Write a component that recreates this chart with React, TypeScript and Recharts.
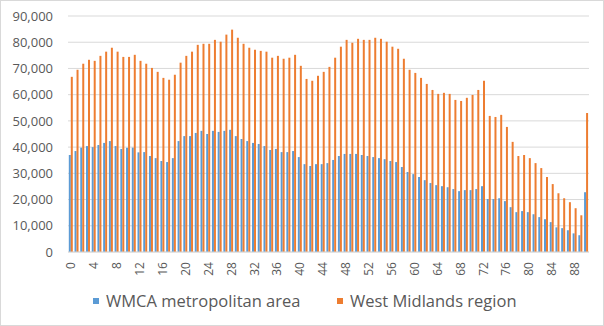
import { BarChart, Bar, XAxis, YAxis, CartesianGrid, Legend } from 'recharts'

const ages = [
  '0', '1', '2', '3', '4', '5', '6', '7', '8', '9',
  '10', '11', '12', '13', '14', '15', '16', '17', '18', '19',
  '20', '21', '22', '23', '24', '25', '26', '27', '28', '29',
  '30', '31', '32', '33', '34', '35', '36', '37', '38', '39',
  '40', '41', '42', '43', '44', '45', '46', '47', '48', '49',
  '50', '51', '52', '53', '54', '55', '56', '57', '58', '59',
  '60', '61', '62', '63', '64', '65', '66', '67', '68', '69',
  '70', '71', '72', '73', '74', '75', '76', '77', '78', '79',
  '80', '81', '82', '83', '84', '85', '86', '87', '88', '89',
  '90',
]

const wmca = [
  37000, 38500, 39800, 40400, 40000, 40800, 41600, 42300, 40400, 39300,
  39800, 39800, 38000, 38100, 36600, 35800, 34700, 34300, 35800, 42300,
  44200, 44200, 45400, 46200, 45000, 46200, 45800, 46200, 46600, 44200,
  43100, 42300, 41600, 41200, 40400, 38900, 39300, 38100, 38100, 38500,
  36200, 33500, 32800, 33500, 33500, 33900, 35100, 36600, 37400, 37400,
  37400, 37000, 36600, 36200, 35800, 35400, 34700, 34300, 32400, 30500,
  29700, 28600, 27400, 26300, 25500, 25100, 24700, 24000, 23200, 23600,
  23600, 24000, 25100, 20200, 20200, 20500, 19400, 17100, 15200, 15600,
  15200, 14400, 13300, 12500, 11400, 9400, 9100, 8300, 7100, 6400,
  22800,
]

const westMidlands = [
  66800, 69500, 71800, 73300, 72900, 74800, 76400, 77900, 76400, 74400,
  74400, 75200, 72900, 71800, 70200, 68700, 66400, 65700, 67600, 72200,
  74800, 76400, 79000, 79400, 79400, 80900, 80200, 82900, 84800, 81700,
  79400, 77900, 77100, 76700, 76400, 74100, 74800, 73700, 74100, 75200,
  71000, 66000, 65300, 67200, 68700, 70600, 74100, 78300, 80900, 79800,
  81300, 80900, 80900, 81700, 81300, 80200, 78300, 77500, 73700, 69500,
  68300, 66400, 64100, 61800, 60300, 60700, 60300, 58000, 57600, 58800,
  59900, 61800, 65300, 51900, 51500, 52300, 47700, 42000, 36600, 37000,
  35800, 33900, 32000, 28600, 25900, 22400, 20500, 19000, 16700, 14000,
  53000,
]

const yTicks = [0, 10000, 20000, 30000, 40000, 50000, 60000, 70000, 80000, 90000]

const chartData = ages.map((age, i) => ({
  age,
  wmca: wmca[i],
  westMidlands: westMidlands[i],
}))

const font = '"Open Sans", sans-serif'
const textColor = '#595959'

const AgeTick = ({ x, y, payload }: { x?: number; y?: number; payload?: { value: string } }) => (
  <text
    x={x}
    y={y}
    transform={`rotate(-90, ${x}, ${y})`}
    textAnchor="end"
    dominantBaseline="central"
    fontSize={12}
    fontFamily={font}
    fill={textColor}
  >
    {payload?.value}
  </text>
)

const ChartLegend = () => (
  <div style={{ position: 'relative', width: 604, height: 30, fontFamily: font, fontSize: 16.5, color: textColor }}>
    <div style={{ position: 'absolute', left: 93, top: 9, width: 6, height: 6, background: '#5b9bd5' }} />
    <span style={{ position: 'absolute', left: 106, top: 0, lineHeight: '24px', whiteSpace: 'nowrap' }}>
      WMCA metropolitan area
    </span>
    <div style={{ position: 'absolute', left: 337, top: 9, width: 6, height: 6, background: '#ed7d31' }} />
    <span style={{ position: 'absolute', left: 350, top: 0, lineHeight: '24px', whiteSpace: 'nowrap' }}>
      West Midlands region
    </span>
  </div>
)

export default function App() {
  return (
    <div
      style={{
        position: 'absolute',
        left: 0,
        top: 0,
        width: 604,
        height: 326,
        boxSizing: 'border-box',
        border: '1px solid #d9d9d9',
        background: '#fff',
      }}
    >
      <div style={{ position: 'absolute', left: -1, top: -1 }}>
        <BarChart
          width={604}
          height={326}
          data={chartData}
          margin={{ top: 16, right: 15, left: 0, bottom: 0 }}
          barGap={0}
          barCategoryGap="14%"
        >
          <CartesianGrid vertical={false} stroke="#d9d9d9" />
          <XAxis
            dataKey="age"
            interval={3}
            tickLine={false}
            tickSize={0}
            tickMargin={10}
            height={40}
            axisLine={{ stroke: '#d9d9d9' }}
            tick={<AgeTick />}
          />
          <YAxis
            domain={[0, 90000]}
            ticks={yTicks}
            width={68}
            axisLine={false}
            tickLine={false}
            tickSize={0}
            tickMargin={15}
            tick={{ fontSize: 13, fontFamily: font, fill: textColor }}
            tickFormatter={(v: number) => v.toLocaleString('en-US')}
          />
          <Legend
            verticalAlign="bottom"
            height={34}
            content={<ChartLegend />}
            wrapperStyle={{ left: 0, width: 604, bottom: 3 }}
          />
          <Bar dataKey="wmca" name="WMCA metropolitan area" fill="#5b9bd5" isAnimationActive={false} />
          <Bar dataKey="westMidlands" name="West Midlands region" fill="#ed7d31" isAnimationActive={false} />
        </BarChart>
      </div>
    </div>
  )
}
